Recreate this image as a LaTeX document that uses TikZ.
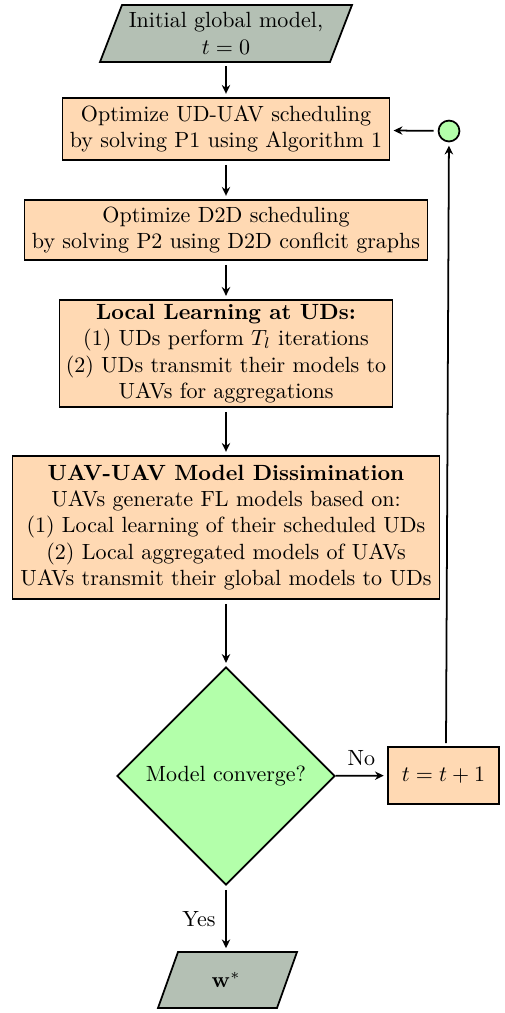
\documentclass[tikz,border=0pt]{standalone}
\usetikzlibrary{shapes.geometric,arrows.meta}
\definecolor{boxfill}{RGB}{255,217,179}
\definecolor{greenfill}{RGB}{179,255,170}
\definecolor{grayfill}{RGB}{180,192,180}
\begin{document}
\begin{tikzpicture}[x=0.4545pt,y=-0.4545pt,
  procbox/.style={draw,thick,fill=boxfill,align=center,inner sep=0pt},
  io/.style={align=center,inner sep=0pt},
  arr/.style={-{Stealth[length=4pt,width=3.8pt]},thick,shorten <=1.8pt,shorten >=1.5pt}]
\useasboundingbox (0,0) rectangle (505,1013);
% top parallelogram
\filldraw[thick,fill=grayfill] (122,5) -- (352,5) -- (330,62) -- (100,62) -- cycle;
\node[io,minimum height=25.9pt,minimum width=100pt] (start) at (226,33.5) {Initial global model,\\$t=0$};
\node[procbox,minimum width=148.6pt,minimum height=28.2pt] (b1) at (226,129) {Optimize UD-UAV scheduling\\by solving P1 using Algorithm 1};
\node[procbox,minimum width=183.2pt,minimum height=27.3pt] (b2) at (226,230) {Optimize D2D scheduling\\by solving P2 using D2D conflcit graphs};
\node[procbox,minimum width=151.4pt,minimum height=48.6pt] (b3) at (226,353.5) {\textbf{Local Learning at UDs:}\\(1) UDs perform $T_l$ iterations\\(2) UDs transmit their models to\\UAVs for aggregations};
\node[procbox,minimum width=194pt,minimum height=65pt] (b4) at (226,527.5) {\textbf{UAV-UAV Model Dissimination}\\UAVs generate FL models based on:\\(1) Local learning of their scheduled UDs\\(2) Local aggregated models of UAVs\\UAVs transmit their global models to UDs};
\node[diamond,draw,thick,fill=greenfill,minimum width=99pt,minimum height=99pt,inner sep=0pt,aspect=1] (dec) at (226,776) {Model converge?};
\node[procbox,minimum width=50.5pt,minimum height=25.9pt] (tb) at (443.5,775.5) {$t=t+1$};
\node[circle,draw,thick,fill=greenfill,minimum size=9.5pt,inner sep=0pt] (circ) at (449,131) {};
\coordinate (tbtop) at (446,747);
% bottom parallelogram
\filldraw[thick,fill=grayfill] (178,952) -- (297,952) -- (277,1008) -- (158,1008) -- cycle;
\node[io,minimum height=25.5pt,minimum width=50pt] (end) at (226,980) {$\mathbf{w}^*$};
% connectors
\draw[arr] (start) -- (b1);
\draw[arr] (b1) -- (b2);
\draw[arr] (b2) -- (b3);
\draw[arr] (b3) -- (b4);
\draw[arr] (b4) -- (dec);
\draw[arr] (dec) -- node[left=1pt] {Yes} (end);
\draw[arr,shorten <=0pt] (dec) -- node[above=1pt] {No} (tb);
\draw[arr] (tbtop) -- (circ);
\draw[arr] (circ) -- (b1);
\end{tikzpicture}
\end{document}
